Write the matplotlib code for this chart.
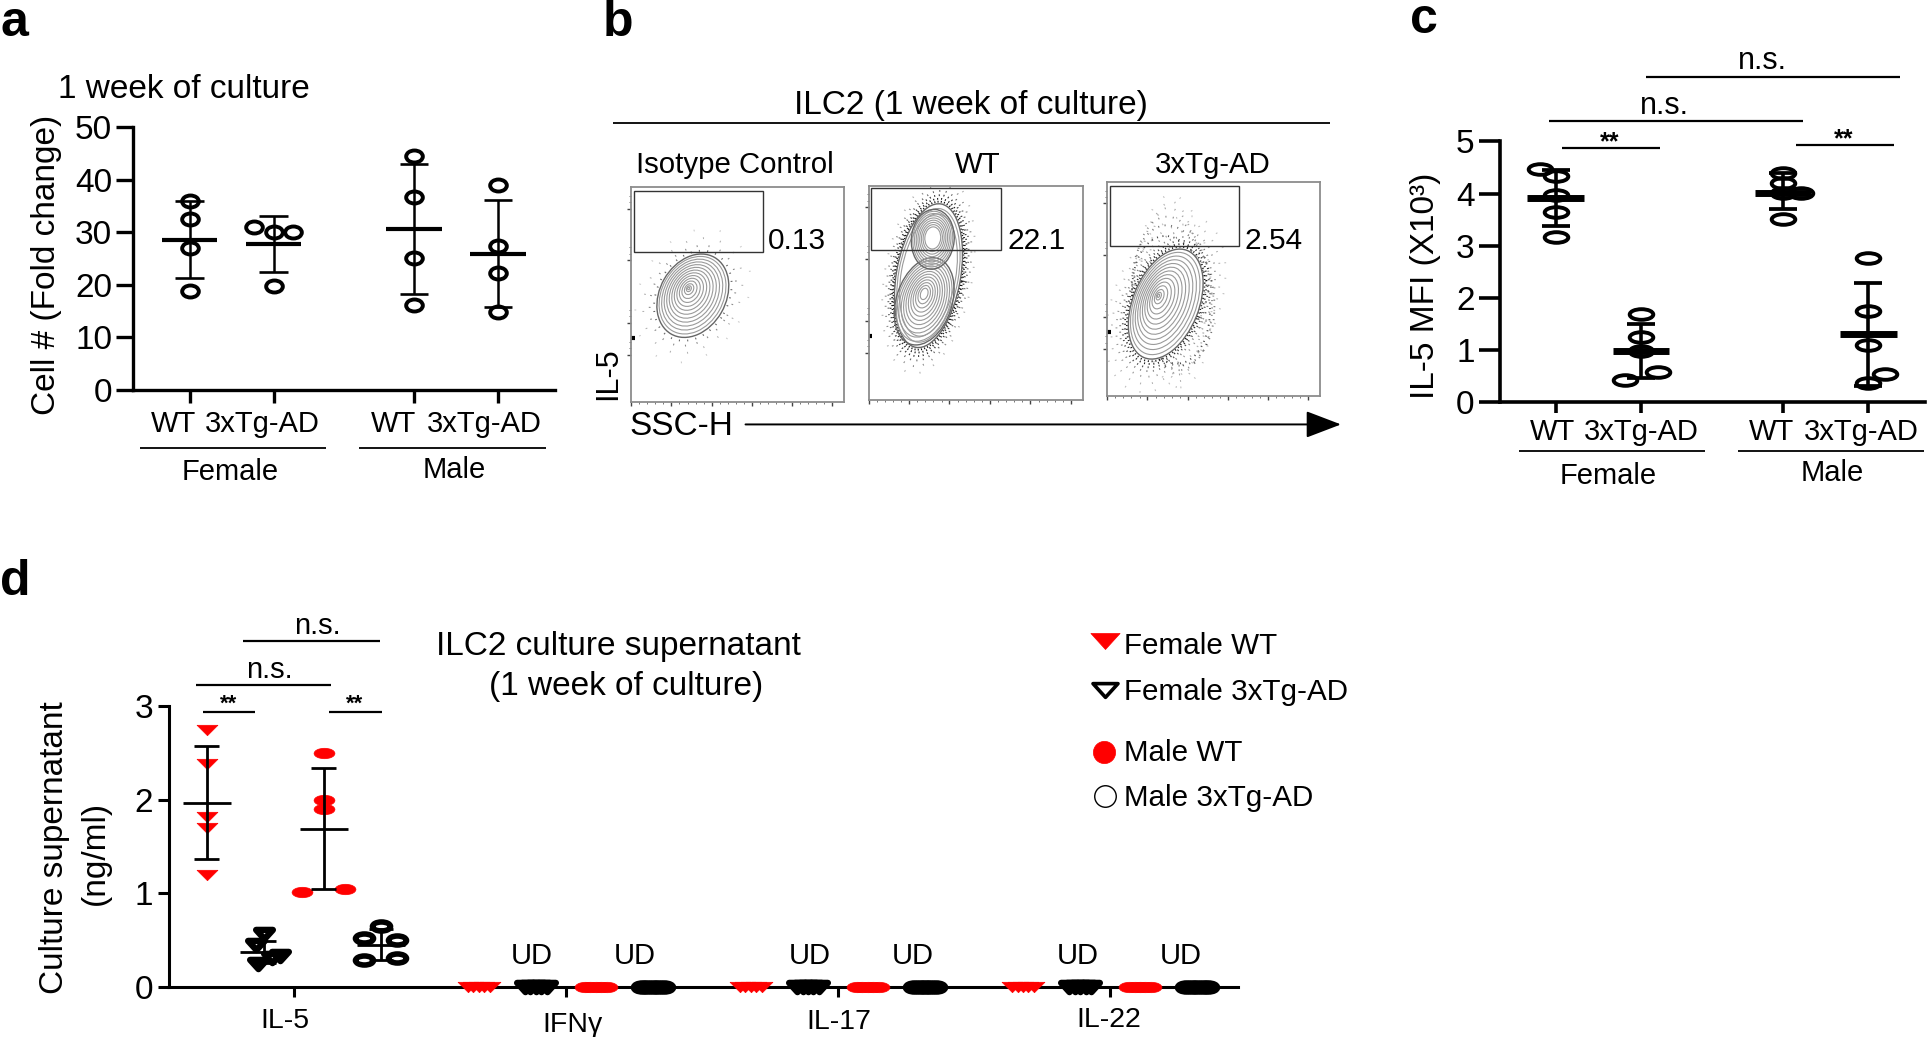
import matplotlib
matplotlib.use("Agg")
import matplotlib.pyplot as plt
from matplotlib.markers import MarkerStyle
from matplotlib.patches import Ellipse, Rectangle
from matplotlib.path import Path
from matplotlib.transforms import Affine2D

plt.rcParams["font.family"] = ["Liberation Sans", "DejaVu Sans"]

W, H = 1929, 1037
S = 1929 / 1568  # label positions below were read from the 1568 wide view

# panel a, cell number
a_ticks = [0, 1, 2.67, 3.67]
a_values = [
    [36, 32.5, 27, 18.8],
    [31, 30, 30, 19.8],
    [44.5, 36.7, 25, 16.2],
    [39, 27.3, 22.2, 14.8],
]
a_dx = [[0, 0, 0, 0], [-0.23, 0, 0.23, 0], [0, 0, 0, 0], [0, 0, 0, 0]]
a_mean = [28.6, 27.7, 30.6, 25.8]
a_hi = [36, 33, 43, 36.2]
a_lo = [21.2, 22.4, 18.3, 15.7]

# panel c, IL-5 MFI
c_ticks = [0, 1, 2.67, 3.67]
c_values = [
    [4.48, 4.33, 3.97, 3.64, 3.16],
    [1.69, 1.25, 0.98, 0.58, 0.42],
    [4.39, 4.2, 4.01, 4.01, 3.51],
    [2.77, 1.74, 1.1, 0.53, 0.37],
]
c_dx = [
    [-0.19, 0, 0, 0, 0],
    [0, 0, 0, 0.2, -0.19],
    [0, 0, 0, 0.21, 0],
    [0, 0, 0, 0.2, 0],
]
c_mean = [3.92, 0.98, 4.01, 1.3]
c_hi = [4.45, 1.49, 4.4, 2.29]
c_lo = [3.38, 0.46, 3.7, 0.3]

# panel d, culture supernatant
d_cytokines = ["IL-5", "IFNγ", "IL-17", "IL-22"]
d_groups = ["Female WT", "Female 3xTg-AD", "Male WT", "Male 3xTg-AD"]
d_il5 = [
    [2.74, 2.38, 1.81, 1.70, 1.19],
    [0.56, 0.44, 0.33, 0.31, 0.24],
    [2.5, 1.99, 1.9, 1.01, 1.045],
    [0.65, 0.52, 0.5, 0.31, 0.28],
]
d_il5_dx = [
    [0, 0, 0, 0, 0],
    [0, -0.03, 0.06, 0.03, -0.02],
    [0, 0, 0, -0.08, 0.08],
    [0, -0.06, 0.06, 0.06, -0.06],
]
d_mean = [1.96, 0.365, 1.69, 0.45]
d_hi = [2.57, 0.49, 2.34, 0.62]
d_lo = [1.36, 0.25, 1.04, 0.28]
d_undetected = [0, 0, 0, 0, 0]
d_undetected_dx = [-0.04, -0.02, 0, 0.02, 0.04]

# panel b, flow plots: outer contour of each population
flow_titles = ["Isotype Control", "WT", "3xTg-AD"]
flow_gates = ["0.13", "22.1", "2.54"]
flow1_blobs = [(29, 49.5, 41, 31, 60, 27, 53, 14)]
flow2_blobs = [
    (28, 58, 68, 30, 80, 28, 60, 3),
    (26, 46, 42, 26, 72, 26, 50, 12),
    (30, 75, 28, 20, 85, 30, 76, 9),
]
flow3_blobs = [(27.5, 43, 54, 31, 68, 24, 47, 14)]
flow1_rings = [(1.08, 0.6, 4), (1.2, 0.45, 6), (1.38, 0.3, 9), (1.6, 0.2, 14)]
flow2_rings = [(1.03, 0.95, 1.2), (1.07, 0.9, 1.6), (1.12, 0.8, 2), (1.18, 0.6, 3), (1.26, 0.45, 5), (1.36, 0.3, 8)]
flow3_rings = [(1.04, 0.9, 1.5), (1.09, 0.85, 2), (1.15, 0.7, 2.5), (1.22, 0.5, 3), (1.32, 0.4, 4), (1.45, 0.3, 6), (1.6, 0.25, 8)]
flow_plumes = [
    [],
    [],
    [(30, 45, 36, 60, 8, 0.7, 2.5), (31, 47, 38, 66, 8, 0.55, 3), (31, 48, 36, 72, 6, 0.45, 3.5),
     (31, 49, 30, 78, 4, 0.35, 5), (32, 49, 24, 84, 3, 0.3, 6), (32, 49, 34, 90, 3, 0.25, 9)],
]
flow_xticks = [0, 18.9, 37.8, 56.7, 75.6, 94.5]
flow_yticks = [22, 37, 66, 90]
contour_steps = [1, 0.93, 0.85, 0.77, 0.69, 0.61, 0.53, 0.45, 0.37, 0.29, 0.21, 0.13, 0.07, 0.03]

fig = plt.figure(figsize=(W / 100, H / 100), dpi=100, facecolor="white")


def px_axes(x0, y_top, x1, y_bot):
    return fig.add_axes([x0 / W, 1 - y_bot / H, (x1 - x0) / W, (y_bot - y_top) / H])


def squashed_circle(ratio):
    return MarkerStyle(Path.unit_circle().transformed(Affine2D().scale(1, ratio)))


def squashed_triangle(ratio):
    verts = [(-1, ratio), (1, ratio), (0, -ratio), (-1, ratio)]
    return MarkerStyle(Path(verts, closed=True))


def style_axes(ax, spine_lw, ylen, xlen, size=24):
    ax.spines["top"].set_visible(False)
    ax.spines["right"].set_visible(False)
    ax.spines["left"].set_linewidth(spine_lw)
    ax.spines["bottom"].set_linewidth(spine_lw)
    ax.tick_params(axis="y", width=spine_lw, length=ylen, labelsize=size, pad=3)
    ax.tick_params(axis="x", width=spine_lw, length=xlen, labelbottom=False)
    ax.patch.set_visible(False)


def draw_group(ax, x, values, dx, mean, hi, lo, marker, ms, color, edge, mew, mean_w, mean_lw, cap_w, cap_lw, stem_lw):
    for v, d in zip(values, dx):
        ax.plot(x + d, v, linestyle="none", marker=marker, ms=ms, mfc=color, mec=edge,
                mew=mew, clip_on=False, zorder=3)
    ax.vlines(x, lo, hi, color="black", lw=stem_lw, zorder=4)
    ax.hlines([lo, hi], x - cap_w, x + cap_w, color="black", lw=cap_lw, zorder=4)
    ax.hlines(mean, x - mean_w, x + mean_w, color="black", lw=mean_lw, zorder=4)


def bracket(ax, x0, x1, y, text, text_x, text_y, size=22, lw=1.6, **kw):
    ax.plot([x0, x1], [y, y], color="black", lw=lw, clip_on=False, solid_capstyle="butt")
    ax.text(text_x, text_y, text, ha="center", va="center", fontsize=size, **kw)


# overlay for letters, group labels and the b panel header
over = fig.add_axes([0, 0, 1, 1], zorder=10)
over.set_xlim(0, W)
over.set_ylim(H, 0)
over.axis("off")


def label(x, y, s, size=21, ha="center", **kw):
    if kw.get("rotation") == 90:
        x += 2
    else:
        y += 1.8
    over.text(x * S, y * S, s, fontsize=size, ha=ha, va="center", **kw)


def rule(x0, x1, y, lw=1.3):
    over.plot([x0 * S, x1 * S], [y * S, y * S], color="black", lw=lw, solid_capstyle="butt")


for letter, lx, ly in [("a", 0, 29), ("b", 490, 29), ("c", 1146, 27), ("d", 0, 484)]:
    over.text(lx * S, ly * S, letter, fontsize=36, fontweight="bold", ha="left", va="baseline")

# a
ax_a = px_axes(133, 127, 555, 390)
ax_a.set_xlim(-0.676, 4.35)
ax_a.set_ylim(0, 50)
style_axes(ax_a, 2.4, 12, 9)
ax_a.set_xticks(a_ticks)
ax_a.set_yticks([0, 10, 20, 30, 40, 50])
mk = squashed_circle(0.72)
for i in range(4):
    draw_group(ax_a, a_ticks[i], a_values[i], a_dx[i], a_mean[i], a_hi[i], a_lo[i], mk, 12, "none",
               "black", 2.8, 0.33, 3, 0.17, 1.9, 1.8)
label(47, 71, "1 week of culture", 24, ha="left")
label(36, 215, "Cell # (Fold change)", 24, rotation=90)
label(141, 343, "WT")
label(213, 343, "3xTg-AD")
label(320, 343, "WT")
label(394, 343, "3xTg-AD")
rule(114, 265, 364)
rule(292, 444, 364)
label(187, 382, "Female")
label(369, 380, "Male")

# b
label(789, 84, "ILC2 (1 week of culture)", 24)
rule(498, 1081, 100)
flow_boxes = [(513, 152, 686, 327), (706, 151, 880, 325), (900, 148, 1073, 322)]
flow_gate_boxes = [(515, 155, 620, 205), (708, 153, 814, 203), (902, 151, 1007, 200)]
flow_blobs = [flow1_blobs, flow2_blobs, flow3_blobs]
flow_rings = [flow1_rings, flow2_rings, flow3_rings]
title_x = [597, 795, 986]
value_x = [624, 819, 1012]
for i in range(3):
    x0, y0, x1, y1 = flow_boxes[i]
    ax = px_axes(x0 * S, y0 * S, x1 * S, y1 * S)
    ax.set_xlim(0, 100)
    ax.set_ylim(0, 100)
    for side in ax.spines.values():
        side.set_color("#8c8c8c")
        side.set_linewidth(1.3)
    ax.set_xticks(flow_xticks)
    ax.set_yticks(flow_yticks)
    ax.set_xticks([t + k * 3.8 for t in flow_xticks[:-1] for k in range(1, 5)], minor=True)
    ax.set_yticks([t + k * 3 for t in flow_yticks for k in range(1, 3)], minor=True)
    ax.tick_params(which="major", length=3, width=1, color="#444444", labelbottom=False, labelleft=False)
    ax.tick_params(which="minor", length=1.5, width=0.7, color="#777777")
    ax.plot([0, 1.6], [30, 30], color="black", lw=3, solid_capstyle="butt")

    for px, py, pw, ph, pa, alpha, gap in flow_plumes[i]:
        ax.add_patch(Ellipse((px, py), pw, ph, angle=pa, fill=False, ec="black", alpha=alpha,
                             lw=1.3, ls=(0, (0.6, gap))))
    cx, cy, long_axis, short_axis, angle = flow_blobs[i][0][:5]
    for scale, alpha, gap in flow_rings[i]:
        ax.add_patch(Ellipse((cx, cy), long_axis * scale, short_axis * scale, angle=angle, fill=False,
                             ec="black", alpha=alpha, lw=1.3, ls=(0, (0.6, gap))))
    for blob in flow_blobs[i]:
        cx, cy, long_axis, short_axis, angle, px, py, n = blob
        for k, step in enumerate(contour_steps[:n]):
            ax.add_patch(Ellipse((px + step * (cx - px), py + step * (cy - py)), long_axis * step,
                                 short_axis * step, angle=angle, fc="white" if k == 0 and len(flow_blobs[i]) == 1 else "none",
                                 ec="#666666" if k == 0 else "#9a9a9a", lw=1 if k == 0 else 0.8))

    gx0, gy0, gx1, gy1 = flow_gate_boxes[i]
    over.add_patch(Rectangle((gx0 * S, gy0 * S), (gx1 - gx0) * S, (gy1 - gy0) * S, fill=False, ec="#333333", lw=1))
    label(title_x[i], 132, flow_titles[i], 21.2)
    label(value_x[i], 194, flow_gates[i], 21.5, ha="left")

label(492, 304, "IL-5", 22, rotation=90)
label(554, 345, "SSC-H", 24)
over.annotate("", xy=(1090 * S, 345 * S), xytext=(606 * S, 345 * S),
              arrowprops=dict(arrowstyle="-|>,head_length=1.1,head_width=0.42", color="black", lw=1.4,
                              shrinkA=0, shrinkB=0, mutation_scale=20))

# c
ax_c = px_axes(1499.6, 141.5, 1925, 402)
ax_c.set_xlim(-0.663, 4.34)
ax_c.set_ylim(0, 5)
style_axes(ax_c, 2.6, 15, 8)
ax_c.set_xticks(c_ticks)
ax_c.set_yticks([0, 1, 2, 3, 4, 5])
mk = squashed_circle(0.45)
for i in range(4):
    draw_group(ax_c, c_ticks[i], c_values[i], c_dx[i], c_mean[i], c_hi[i], c_lo[i], mk, 17, "none",
               "black", 2.8, 0.335, 5, 0.165, 2.7, 2.6)
bracket(ax_c, 1.06, 4.05, 6.23, "n.s.", 2.43, 6.54)
bracket(ax_c, -0.087, 2.9, 5.4, "n.s.", 1.28, 5.68)
bracket(ax_c, 0.07, 1.22, 4.88, "**", 0.63, 4.98, size=18, fontweight="bold")
bracket(ax_c, 2.82, 3.97, 4.94, "**", 3.38, 5.05, size=18, fontweight="bold")
label(1157, 232, "IL-5 MFI (X10³)", 24, rotation=90)
label(1262, 349, "WT")
label(1334, 349, "3xTg-AD")
label(1440, 349, "WT")
label(1513, 349, "3xTg-AD")
rule(1235, 1386, 367)
rule(1413, 1564, 367)
label(1307, 385, "Female")
label(1489, 383, "Male")

# d
ax_d = px_axes(168.5, 706, 1238, 986.6)
ax_d.set_xlim(-0.46, 3.47)
ax_d.set_ylim(0, 3)
style_axes(ax_d, 2.2, 8, 7)
ax_d.set_xticks(range(len(d_cytokines)))
ax_d.set_yticks([0, 1, 2, 3])
group_dx = [-0.32, -0.11, 0.11, 0.32]
group_marker = [squashed_triangle(0.5), squashed_triangle(0.55), squashed_circle(0.5), squashed_circle(0.5)]
group_color = ["red", "none", "red", "none"]
group_edge = ["red", "black", "red", "black"]
group_mew = [0.5, 4.6, 0.5, 4]
group_ms = [15, 12, 15, 13]
for i in range(4):
    draw_group(ax_d, group_dx[i], d_il5[i], d_il5_dx[i], d_mean[i], d_hi[i], d_lo[i], group_marker[i],
               group_ms[i], group_color[i], group_edge[i], group_mew[i], 0.088, 2, 0.045, 2, 2)
    for k in range(1, 4):
        for d in d_undetected_dx:
            ax_d.plot(k + group_dx[i] + d, d_undetected[0], linestyle="none", marker=group_marker[i],
                      ms=group_ms[i], mfc=group_color[i], mec=group_edge[i], mew=group_mew[i],
                      clip_on=False, zorder=3)
bracket(ax_d, -0.185, 0.317, 3.7, "n.s.", 0.086, 3.86, size=21)
bracket(ax_d, -0.36, 0.137, 3.22, "n.s.", -0.09, 3.38, size=21)
bracket(ax_d, -0.335, -0.143, 2.94, "**", -0.24, 3.02, size=16, fontweight="bold")
bracket(ax_d, 0.13, 0.323, 2.94, "**", 0.224, 3.02, size=16, fontweight="bold")
for x in [432, 516, 658, 742, 876, 960]:
    label(x, 775, "UD", 21)
label(232, 828, d_cytokines[0], 20.5)
label(465, 831, d_cytokines[1], 20.5)
label(682, 829, d_cytokines[2], 20.5)
label(901, 827, d_cytokines[3], 20.5)
label(42, 689, "Culture supernatant", 24, rotation=90)
label(75.5, 693, "(ng/ml)", 24, rotation=90)
label(503, 524, "ILC2 culture supernatant", 24)
label(509, 556, "(1 week of culture)", 24)

legend_y = [523, 561, 610, 647]
over.plot(898 * S, 521 * S, marker=squashed_triangle(0.55), ms=21, mfc="red", mec="red", mew=0.5)
over.plot(898 * S, 561 * S, marker=squashed_triangle(0.55), ms=18, mfc="none", mec="black", mew=2.6)
over.plot(897 * S, 611 * S, marker="o", ms=16, mfc="red", mec="red", mew=0.5)
over.plot(898 * S, 647 * S, marker="o", ms=15.5, mfc="none", mec="black", mew=1)
for name, y in zip(d_groups, legend_y):
    label(914, y, name, 21.3, ha="left")

over.set_xlim(0, W)
over.set_ylim(H, 0)
fig.savefig("out.png", dpi=100)
